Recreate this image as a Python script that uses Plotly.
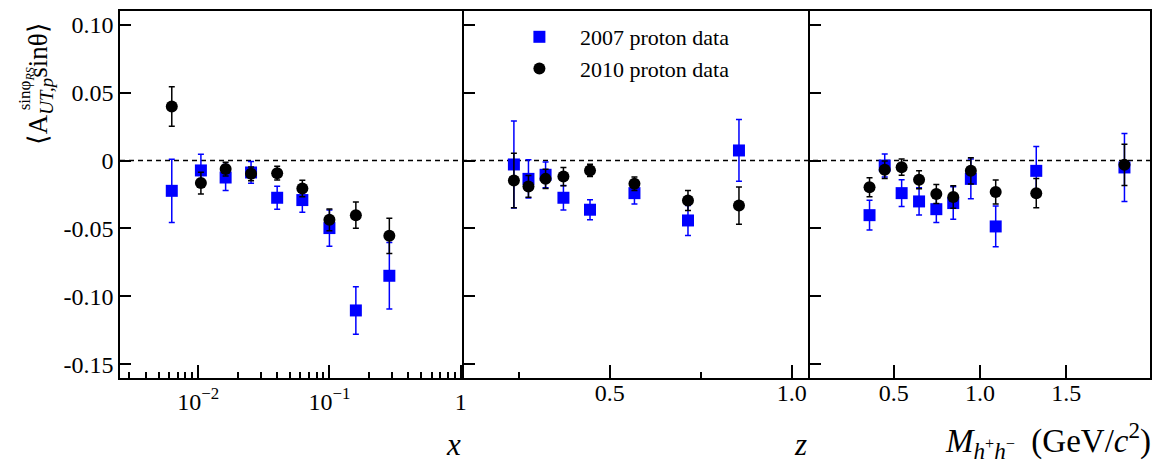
import plotly.graph_objects as go

# ---------------- data ----------------
x_bins = [0.0063, 0.0105, 0.0162, 0.0253, 0.040, 0.0622, 0.100, 0.159, 0.286]
a07_x = [-0.0223, -0.0073, -0.0125, -0.0088, -0.0274, -0.0291, -0.0497, -0.1103, -0.0848]
e07_x = [0.0233, 0.012, 0.0095, 0.008, 0.0085, 0.009, 0.0133, 0.0175, 0.0245]
a10_x = [0.0397, -0.0166, -0.0063, -0.0098, -0.0093, -0.0206, -0.0436, -0.0402, -0.0554]
e10_x = [0.0145, 0.008, 0.005, 0.005, 0.005, 0.006, 0.008, 0.0097, 0.013]

z_bins = [0.237, 0.277, 0.324, 0.373, 0.446, 0.568, 0.715, 0.855]
a07_z = [-0.0029, -0.0135, -0.0105, -0.0274, -0.0362, -0.024, -0.0441, 0.0074]
e07_z = [0.032, 0.014, 0.0095, 0.009, 0.0073, 0.008, 0.011, 0.0227]
a10_z = [-0.0147, -0.0191, -0.0135, -0.0118, -0.0073, -0.0171, -0.0294, -0.0331]
e10_z = [0.020, 0.008, 0.007, 0.0067, 0.0045, 0.005, 0.0074, 0.0137]

m_bins = [0.36, 0.448, 0.546, 0.647, 0.747, 0.845, 0.947, 1.091, 1.326, 1.837]
a07_m = [-0.0402, -0.0037, -0.024, -0.0301, -0.0358, -0.0313, -0.0135, -0.0485, -0.0076, -0.0051]
e07_m = [0.011, 0.0085, 0.0098, 0.01, 0.0098, 0.012, 0.0147, 0.015, 0.018, 0.025]
a10_m = [-0.0196, -0.0068, -0.0049, -0.0142, -0.0247, -0.0269, -0.0076, -0.0232, -0.024, -0.0032]
e10_m = [0.007, 0.0065, 0.006, 0.0066, 0.007, 0.0083, 0.0096, 0.0088, 0.0107, 0.0152]

y_ticks = [-0.15, -0.10, -0.05, 0, 0.05, 0.10]
y_ticktext = ["-0.15", "-0.10", "-0.05", "0", "0.05", "0.10"]
x_ticks = [0.01, 0.1, 1]
x_ticktext = ["10<sup>\u22122</sup>", "10<sup>\u22121</sup>", "1"]
x_minor = [k * 10.0 ** e for e in (-3, -2, -1) for k in range(2, 10) if k * 10.0 ** e > 0.0025]
z_ticks = [0.5, 1.0]
z_ticktext = ["0.5", "1.0"]
z_minor = [0.25, 0.75]
m_ticks = [0.5, 1.0, 1.5]
m_ticktext = ["0.5", "1.0", "1.5"]

series_names = ["2007 proton data", "2010 proton data"]

# ---------------- figure ----------------
W, H = 1159, 466
L, R, T, B = 120, 1153, 11, 378
FONT = "Liberation Serif, Times New Roman, serif"
BLUE = "#0000ff"
BLACK = "#000000"

def px(xp):
    return (xp - L) / (R - L)

def py(yp):
    return (B - yp) / (B - T)

d1 = [0, px(465)]
d2 = [px(465), px(812)]
d3 = [px(812), 1]

fig = go.Figure()

panels = [
    (x_bins, a07_x, e07_x, a10_x, e10_x, "x", "y"),
    (z_bins, a07_z, e07_z, a10_z, e10_z, "x2", "y2"),
    (m_bins, a07_m, e07_m, a10_m, e10_m, "x3", "y3"),
]
for i, (xb, a7, e7, a10, e10, xa, ya) in enumerate(panels):
    fig.add_trace(go.Scatter(
        x=xb, y=a7, mode="markers", xaxis=xa, yaxis=ya,
        name=series_names[0], showlegend=(i == 0), legendgroup="g07",
        marker=dict(symbol="square", size=12, color=BLUE),
        error_y=dict(type="data", array=e7, color=BLUE, thickness=1.5, width=3),
    ))
    fig.add_trace(go.Scatter(
        x=xb, y=a10, mode="markers", xaxis=xa, yaxis=ya,
        name=series_names[1], showlegend=(i == 0), legendgroup="g10",
        marker=dict(symbol="circle", size=12, color=BLACK),
        error_y=dict(type="data", array=e10, color=BLACK, thickness=1.5, width=3),
    ))

tickfont = dict(family=FONT, size=24, color="black")
base = dict(showline=True, linecolor="black", linewidth=1.5,
            showgrid=False, zeroline=False, ticks="inside", tickcolor="black",
            tickwidth=1.5, tickfont=tickfont)
minor_style = dict(ticklen=6, ticks="inside", tickcolor="black", tickwidth=1.5)

yrange = [-0.16, 0.11]
fig.update_layout(
    xaxis=dict(domain=d1, type="log", range=[-2.595, 0.025], tickvals=x_ticks,
               ticktext=x_ticktext, ticklen=13, anchor="y", mirror=True,
               ticklabelstandoff=1,
               minor=dict(tickvals=x_minor, **minor_style), **base),
    xaxis2=dict(domain=d2, range=[0.1, 1.05], tickvals=z_ticks, ticktext=z_ticktext,
                ticklen=13, anchor="y2", mirror=True, ticklabelstandoff=-8,
                minor=dict(tickvals=z_minor, **minor_style), **base),
    xaxis3=dict(domain=d3, range=[0.015, 1.985], tickvals=m_ticks, ticktext=m_ticktext,
                ticklen=13, anchor="y3", mirror=True, ticklabelstandoff=-8, **base),
    yaxis=dict(domain=[0, 1], range=yrange, tickvals=y_ticks, ticktext=y_ticktext,
               ticklen=11, anchor="x", mirror=False, **base),
    yaxis2=dict(domain=[0, 1], range=yrange, tickvals=y_ticks, showticklabels=False,
                ticklen=11, anchor="x2", mirror=False, **base),
    yaxis3=dict(domain=[0, 1], range=yrange, tickvals=y_ticks, showticklabels=False,
                ticklen=11, anchor="x3", mirror=True, **base),
)

fig.add_shape(type="line", xref="paper", yref="y", x0=0, x1=1, y0=0, y1=0,
              line=dict(color="black", width=1.5, dash="5px,4px"), layer="below")

ann_font = dict(family=FONT, color="black")
annotations = [
    dict(text="<i>x</i>", x=px(464), y=py(444), xanchor="right", yanchor="middle",
         font=dict(size=31, **ann_font)),
    dict(text="<i>z</i>", x=px(811), y=py(444), xanchor="right", yanchor="middle",
         font=dict(size=31, **ann_font)),
    dict(text="<i>M</i><sub><i>h</i><sup>+</sup><i>h</i><sup>\u2212</sup></sub>  (GeV/<i>c</i><sup>2</sup>)",
         x=px(1156), y=py(440), xanchor="right", yanchor="middle",
         font=dict(size=33, **ann_font)),
    dict(text="\u27e8A<sub><i>UT,p</i></sub>sin\u03b8\u27e9", x=px(40), y=py(84),
         xanchor="center", yanchor="middle", textangle=-90,
         font=dict(size=27, **ann_font)),
    dict(text="sin\u03c6<sub><i>RS</i></sub>", x=px(26), y=py(89),
         xanchor="center", yanchor="middle", textangle=-90,
         font=dict(size=17, **ann_font)),
]
for a in annotations:
    a.update(xref="paper", yref="paper", showarrow=False)

fig.update_layout(
    annotations=annotations,
    width=W, height=H,
    margin=dict(l=L, r=W - R, t=T, b=H - B, pad=0),
    paper_bgcolor="white", plot_bgcolor="white",
    showlegend=True,
    legend=dict(x=px(500), y=py(16), xanchor="left", yanchor="top",
                font=dict(family=FONT, size=22, color="black"), itemwidth=71,
                bgcolor="rgba(0,0,0,0)", tracegroupgap=0, traceorder="grouped"),
)

fig.write_html("out.html")
